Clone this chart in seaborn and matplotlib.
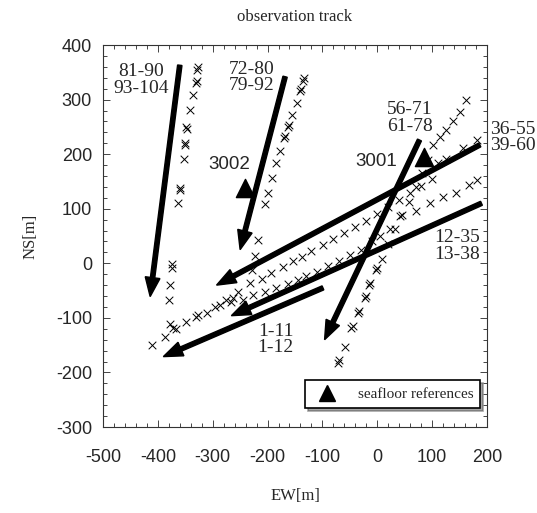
import numpy as np
import pandas as pd
import matplotlib
matplotlib.use("Agg")
import matplotlib.pyplot as plt
from matplotlib.ticker import MultipleLocator
from matplotlib.lines import Line2D
import seaborn as sns

# observation points (EW, NS), grouped by track
track_81_90_ew = [-326, -328, -329, -331, -336, -342, -348, -347, -350, -351, -352, -360, -359, -364, -374, -374, -378, -379, -377, -372]
track_81_90_ns = [359, 355, 335, 331, 308, 281, 250, 246, 220, 216, 192, 138, 134, 110, -2, -9, -40, -67, -112, -118]

track_72_80_ew = [-136, -134, -141, -139, -147, -156, -162, -160, -170, -168, -178, -184, -191, -199, -204, -217, -223, -229]
track_72_80_ns = [335, 339, 315, 319, 293, 272, 250, 254, 229, 233, 205, 183, 156, 128, 109, 43, 14, -13]

track_56_71_ew = [-72, -70, -59, -47, -45, -35, -33, -23, -21, -15, -13, -3, -1, 8, 20, 33, 45, 58, 70, 82, 92, 102, 114, 126, 138, 150, 162]
track_56_71_ns = [-182, -177, -154, -119, -115, -91, -87, -64, -60, -40, -36, -12, -8, 8, 35, 62, 88, 113, 140, 165, 190, 217, 232, 244, 260, 278, 299]

track_36_55_ew = [-410, -387, -366, -348, -331, -327, -311, -296, -287, -275, -263, -254, -232, -211, -193, -172, -153, -138,
                  -120, -99, -80, -60, -40, -20, 0, 20, 40, 60, 80, 100, 111, 126, 156, 181]
track_36_55_ns = [-149, -135, -120, -108, -98, -94, -91, -80, -76, -67, -64, -52, -36, -28, -18, -6, 4, 12,
                  22, 33, 45, 55, 66, 78, 90, 103, 116, 128, 141, 155, 183, 192, 211, 226]

track_12_35_ew = [-266, -245, -226, -205, -184, -162, -144, -129, -110, -90, -70, -50, -30, -10, 5, 23, 41, 71, 96, 120, 144, 168, 181]
track_12_35_ns = [-70, -67, -58, -52, -46, -37, -30, -24, -15, -5, 5, 15, 25, 40, 50, 62, 86, 95, 110, 122, 128, 144, 153]

# ship track arrows: start and end points
arrow_start_ew = [-360, -168, 77, 187, 190, -99]
arrow_start_ns = [363, 342, 226, 217, 110, -45]
arrow_end_ew = [-414, -250, -96, -293, -266, -390]
arrow_end_ns = [-61, 25, -140, -40, -96, -171]

track_labels = ["81-90\n93-104", "72-80\n79-92", "56-71\n61-78", "36-55\n39-60", "12-35\n13-38", "1-11\n1-12"]
label_ew = [-430, -229, 59, 205, 145, -185]
label_ns = [336, 340, 266, 231, 32, -140]

ref_names = ["3002", "3001"]
ref_ew = [-241, 86]
ref_ns = [138, 195]
ref_label_ew = [-270, -1]
ref_label_ns = [182, 186]

sns.set_theme(style="ticks")
plt.rcParams["font.family"] = ["Liberation Sans", "DejaVu Sans"]
plt.rcParams["axes.unicode_minus"] = False

obs = pd.DataFrame({
    "EW": track_81_90_ew + track_72_80_ew + track_56_71_ew + track_36_55_ew + track_12_35_ew,
    "NS": track_81_90_ns + track_72_80_ns + track_56_71_ns + track_36_55_ns + track_12_35_ns,
})
refs = pd.DataFrame({"EW": ref_ew, "NS": ref_ns})

fig = plt.figure(figsize=(5.37, 5.13), dpi=100)
ax = fig.add_axes([0.1918, 0.1676, 0.715, 0.7446])

sns.scatterplot(data=obs, x="EW", y="NS", marker="x", color="black", s=30, linewidth=0.7, ax=ax, zorder=3)
sns.scatterplot(data=refs, x="EW", y="NS", marker="^", color="black", s=170, edgecolor="black", ax=ax, zorder=4)

for x0, y0, x1, y1 in zip(arrow_start_ew, arrow_start_ns, arrow_end_ew, arrow_end_ns):
    ax.arrow(x0, y0, x1 - x0, y1 - y0, width=8, head_width=27, head_length=35,
             length_includes_head=True, color="black", zorder=5)

for txt, x, y in zip(track_labels, label_ew, label_ns):
    ha = "left" if x > 200 else "center"
    ax.text(x, y, txt, ha=ha, va="center", family="Liberation Serif", fontsize=14,
            linespacing=0.95, clip_on=False)

for txt, x, y in zip(ref_names, ref_label_ew, ref_label_ns):
    ax.text(x, y, txt, ha="center", va="center", fontsize=13.5)

ax.set_xlim(-500, 200)
ax.set_ylim(-300, 400)
ax.xaxis.set_major_locator(MultipleLocator(100))
ax.yaxis.set_major_locator(MultipleLocator(100))
ax.xaxis.set_minor_locator(MultipleLocator(20))
ax.yaxis.set_minor_locator(MultipleLocator(20))
ax.tick_params(which="both", direction="in", top=True, right=True, labelsize=13, width=0.7, color="#444444")
ax.tick_params(which="major", length=5)
ax.tick_params(which="minor", length=3)
ax.tick_params(axis="x", which="major", pad=16)
ax.tick_params(axis="y", which="major", pad=8)
for sp in ax.spines.values():
    sp.set_linewidth(0.8)
    sp.set_color("#333333")

ax.set_title("observation track", family="Liberation Serif", fontsize=12, pad=17)
ax.set_xlabel("EW[m]", family="Liberation Serif", fontsize=12)
ax.set_ylabel("NS[m]", family="Liberation Serif", fontsize=12)
ax.xaxis.set_label_coords(0.5, -0.16)
ax.yaxis.set_label_coords(-0.168, 0.5)

handle = Line2D([], [], marker="^", color="black", linestyle="none", markersize=12)
leg = ax.legend([handle], ["seafloor references"], loc="lower right", bbox_to_anchor=(0.982, 0.05),
                borderaxespad=0, frameon=True, fancybox=False, shadow=True, edgecolor="black",
                prop={"family": "Liberation Serif", "size": 11}, borderpad=0.45, handletextpad=1.0)
leg.get_frame().set_linewidth(1.2)

fig.savefig("out.png", dpi=100)
